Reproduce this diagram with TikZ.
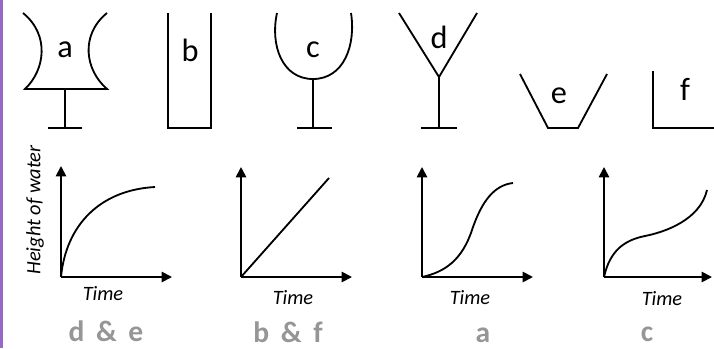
\documentclass[tikz,border=0pt]{standalone}
\usepackage{fontspec}
\setmainfont{Carlito}
\usetikzlibrary{arrows.meta}
\definecolor{edgeP}{RGB}{150,105,200}
\definecolor{ansG}{RGB}{150,150,150}

\begin{document}
\begin{tikzpicture}[x=0.25mm, y=-0.25mm,
    glass/.style={line width=1.3pt, line join=miter},
    axis/.style={line width=1.3pt, -{Triangle[length=2.6mm, width=2.6mm]}},
    curve/.style={line width=1.3pt},
    tag/.style={font=\fontsize{23}{27}\selectfont, inner sep=0pt},
    axlbl/.style={font=\fontsize{14.5}{17}\selectfont\itshape, inner sep=0pt},
    ans/.style={font=\fontsize{21}{25}\selectfont\bfseries, text=ansG, inner sep=0pt}
  ]
  \useasboundingbox (0,0) rectangle (714,348);
  \draw[edgeP, line width=0.75mm] (1.5,0) -- (1.5,348);

  % vessels
  \draw[glass] (23,13) .. controls (50,35) and (45,70) .. (25,89) -- (107,89)
               .. controls (85,70) and (80,35) .. (107,13);
  \draw[glass] (65,89) -- (65,128);
  \draw[glass] (48,128) -- (82,128);
  \node[tag] (ta) at (65,50) {a};

  \draw[glass] (168,13) -- (168,128) -- (211,128) -- (211,13);
  \node[tag] (tb) at (190,50) {b};

  \draw[glass] (277,13) .. controls (270,45) and (282,79) .. (313,79)
               .. controls (344,79) and (356,45) .. (351,13);
  \draw[glass] (313,79) -- (313,128);
  \draw[glass] (297,128) -- (332,128);
  \node[tag] (tc) at (313,50) {c};

  \draw[glass] (399,13) -- (439,77) -- (477,13);
  \draw[glass] (439,77) -- (439,128);
  \draw[glass] (421,128) -- (457,128);
  \node[tag] (td) at (439,37) {d};

  \draw[glass] (520,74) -- (548,128) -- (578,128) -- (607,74);
  \node[tag] (te) at (559,96) {e};

  \draw[glass] (653,71) -- (653,128) -- (714,128);
  \node[tag] (tf) at (685,89) {f};

  % graphs
  \coordinate (o1) at (61,277);  \coordinate (y1) at (61,166);  \coordinate (x1) at (172,277);
  \coordinate (o2) at (241,277); \coordinate (y2) at (241,167); \coordinate (x2) at (352,277);
  \coordinate (o3) at (422,277); \coordinate (y3) at (422,167); \coordinate (x3) at (533,277);
  \coordinate (o4) at (604,277); \coordinate (y4) at (604,167); \coordinate (x4) at (712,277);
  \draw[axis] (o1) -- (y1);  \draw[axis] (o1) -- (x1);
  \draw[axis] (o2) -- (y2);  \draw[axis] (o2) -- (x2);
  \draw[axis] (o3) -- (y3);  \draw[axis] (o3) -- (x3);
  \draw[axis] (o4) -- (y4);  \draw[axis] (o4) -- (x4);

  \draw[curve] (o1) .. controls (66,225) and (100,190) .. (155,187);
  \draw[curve] (o2) -- (329,178);
  \draw[curve] (o3) .. controls (445,272) and (462,260) .. (472,230)
               .. controls (482,200) and (495,185) .. (513,183);
  \draw[curve] (o4) .. controls (610,250) and (625,240) .. (645,236)
               .. controls (665,232) and (700,220) .. (707,190);

  \node[axlbl, rotate=90] (hw) at (35,210) {Height of water};
  \node[axlbl] (t1) at (103,294) {Time};
  \node[axlbl] (t2) at (293,298) {Time};
  \node[axlbl] (t3) at (470,298) {Time};
  \node[axlbl] (t4) at (662,299) {Time};

  \node[ans] (a1) at (106,331) {d \,\&\, e};
  \node[ans] (a2) at (288,332) {b \,\&\, f};
  \node[ans] (a3) at (483,335) {a};
  \node[ans] (a4) at (647,334) {c};
\end{tikzpicture}
\end{document}
